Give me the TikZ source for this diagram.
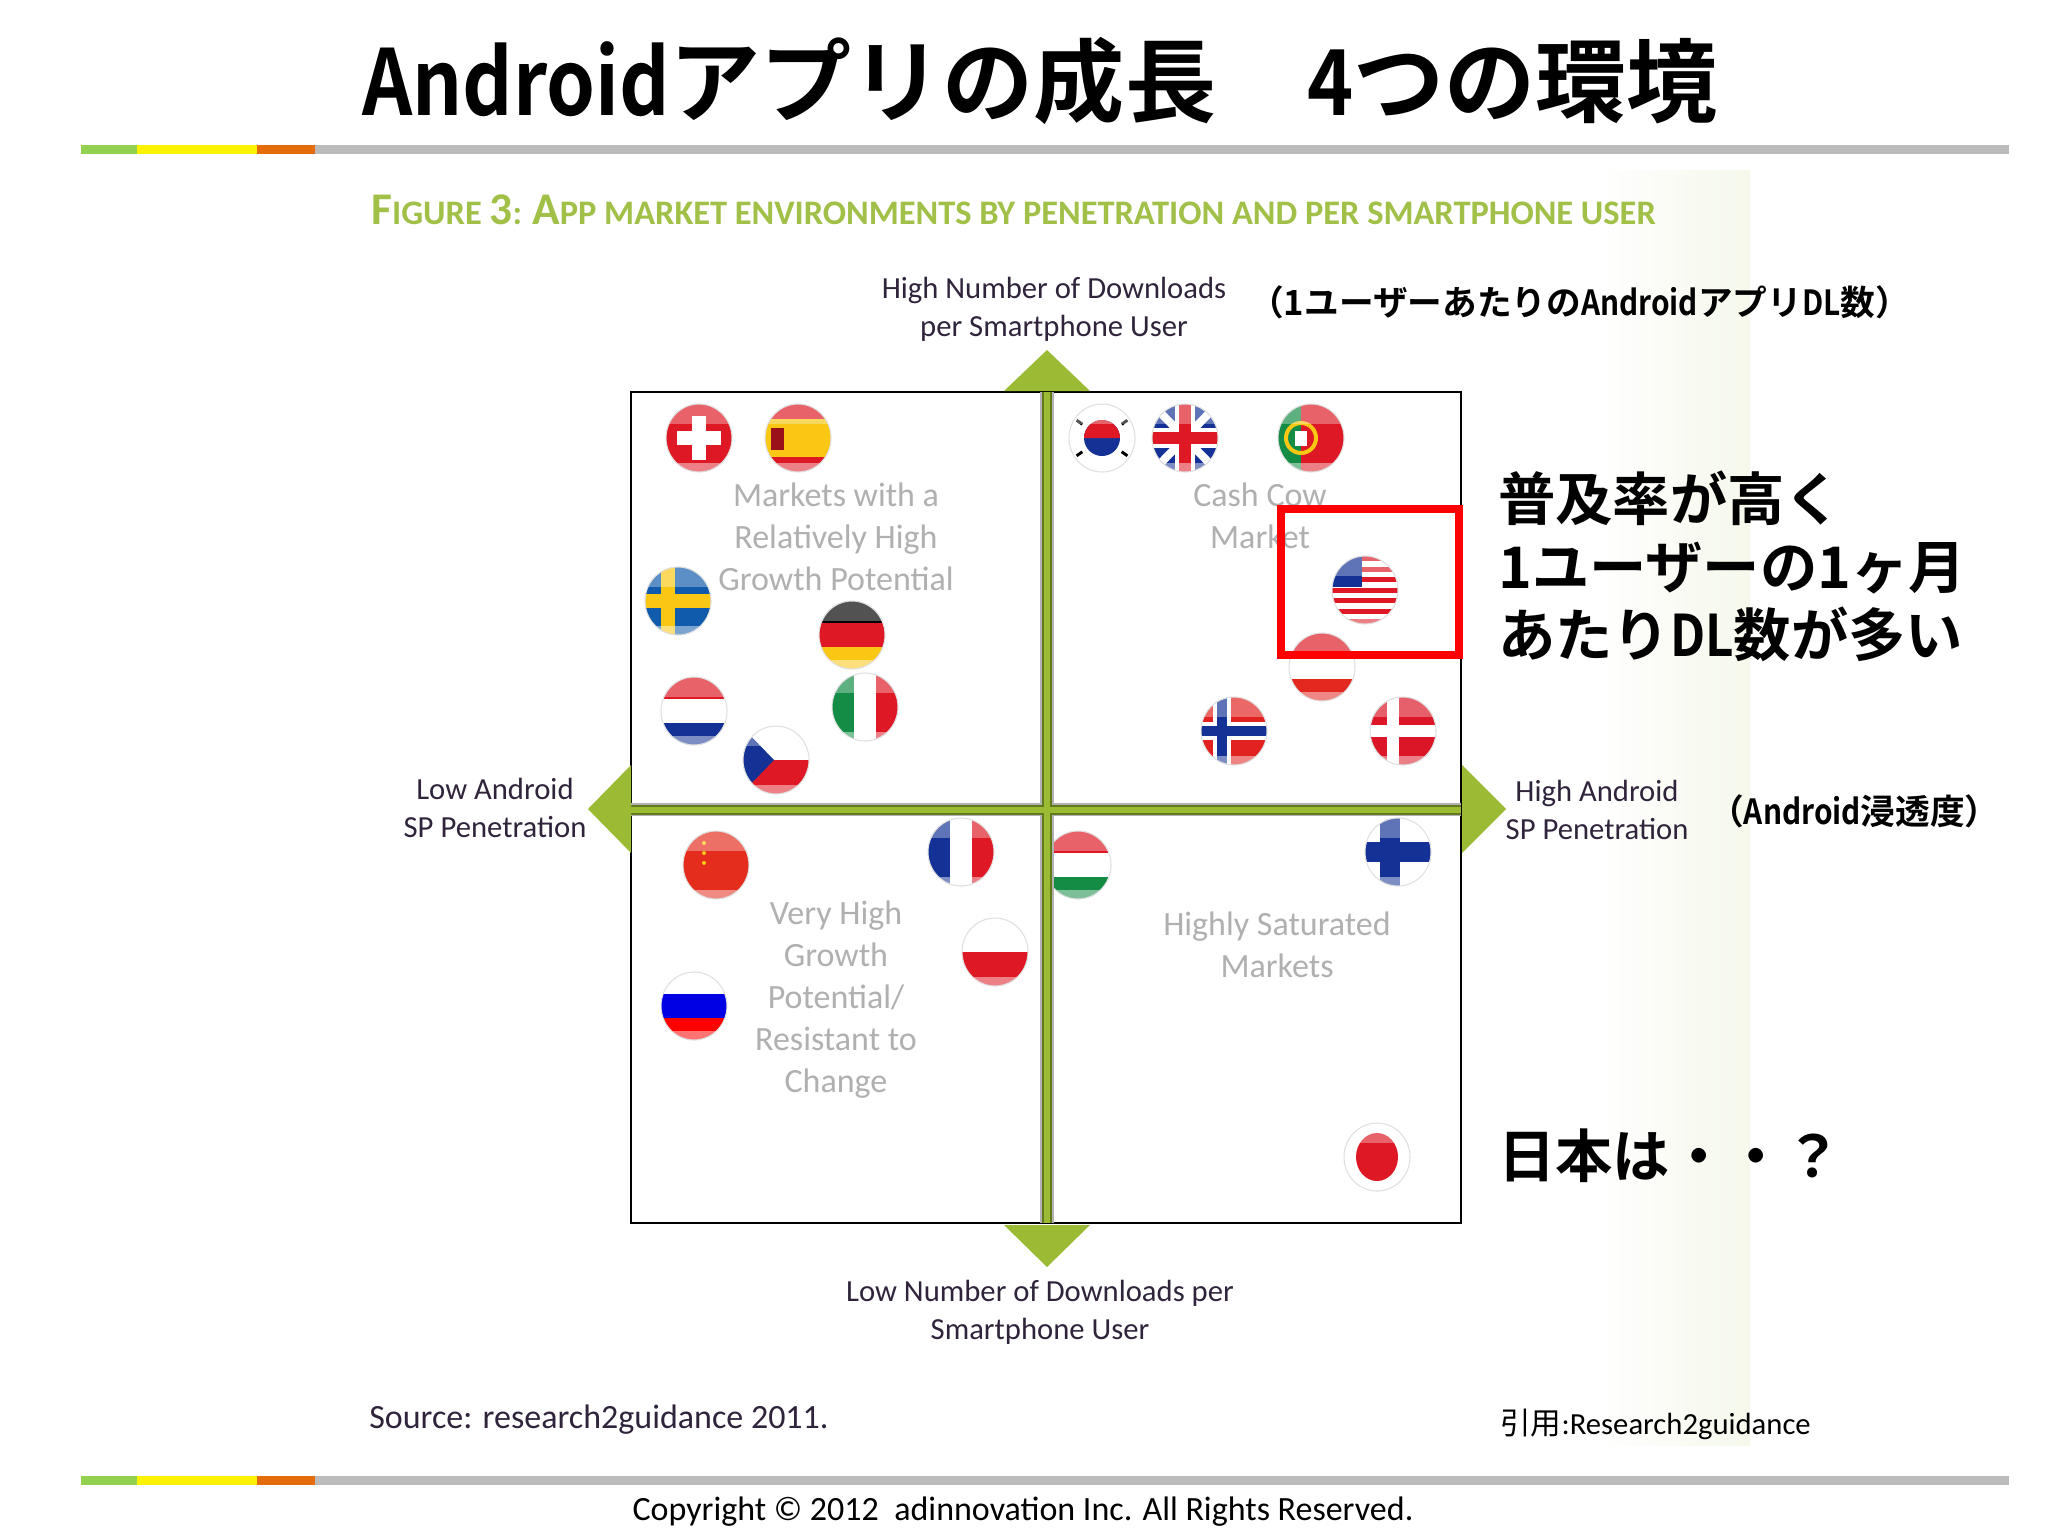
\documentclass[tikz,border=0pt]{standalone}
\usepackage{fontspec}
\usepackage{xcolor}
\setmainfont{Carlito}
\newfontfamily\cjk{Noto Sans CJK JP Bold}
\newfontfamily\cjklat[FakeStretch=0.86]{Noto Sans CJK JP Bold}
\newfontfamily\cjkreg{Noto Sans CJK JP}
\definecolor{barorange}{RGB}{228,108,10}
\definecolor{bargreen}{RGB}{146,208,80}
\definecolor{bargray}{RGB}{187,187,187}
\definecolor{axisgreen}{RGB}{155,187,52}
\definecolor{axisdark}{RGB}{98,122,28}
\definecolor{headgreen}{RGB}{160,192,72}
\definecolor{labelink}{RGB}{48,36,60}
\definecolor{quadgray}{RGB}{176,176,176}
\definecolor{flagblue}{RGB}{20,50,150}
\definecolor{flagred}{RGB}{222,24,36}
\definecolor{flagyellow}{RGB}{250,200,20}
\definecolor{flaggreen}{RGB}{20,140,70}
\tikzset{
    axislabel/.style={anchor=center,inner sep=0.75pt,align=center,text=labelink,font=\fontsize{23}{28.5}\selectfont},
    quadlabel/.style={anchor=center,inner sep=0.75pt,align=center,text=quadgray,font=\fontsize{25.5}{31.5}\selectfont},
    bigjp/.style={anchor=west,inner sep=0.75pt,align=left,font=\cjk\fontsize{43}{43}\selectfont},
    smalljp/.style={anchor=west,inner sep=0.75pt,align=left,font=\cjk\fontsize{26}{26}\selectfont},
}
\newcommand{\headcap}[1]{{\fontsize{34}{34}\selectfont #1}}
\newcommand{\flagball}[3]{%
    \begin{scope}[shift={(#1,#2)}]
        \begin{scope}
            \clip (0,0) ellipse (33 and 34);
            #3
            \fill [white,opacity=0.32] (-40,-40) rectangle (40,-14);
            \fill [white,opacity=0.45] (-40,25) rectangle (40,40);
        \end{scope}
        \draw [black!12,line width=0.8pt] (0,0) ellipse (33 and 34);
    \end{scope}}
\newcommand{\hbands}[3]{%
    \fill [#1] (-40,-40) rectangle (40,-12);
    \fill [#2] (-40,-12) rectangle (40,12);
    \fill [#3] (-40,12) rectangle (40,40);}
\newcommand{\vbands}[3]{%
    \fill [#1] (-40,-40) rectangle (-11,40);
    \fill [#2] (-11,-40) rectangle (11,40);
    \fill [#3] (11,-40) rectangle (40,40);}
\newcommand{\crossflag}[4]{%
    \fill [#1] (-40,-40) rectangle (40,40);
    \fill [#2] (#3-#4,-40) rectangle (#3+#4,40);
    \fill [#2] (-40,-#4) rectangle (40,#4);}
\begin{document}
\begin{tikzpicture}[x=0.75pt,y=0.75pt,yscale=-1,xscale=1]
    \useasboundingbox (0,0) rectangle (2048,1536);
    \fill [white] (0,0) rectangle (2048,1536);
    \shade [left color=white,right color=axisgreen!10,draw=none] (1595,170) rectangle (1750,1445);
    % rules top and bottom
    \foreach \y in {145,1476} {
        \fill [bargreen] (81,\y) rectangle (137,\y+9);
        \fill [yellow] (137,\y) rectangle (257,\y+9);
        \fill [barorange] (257,\y) rectangle (315,\y+9);
        \fill [bargray] (315,\y) rectangle (2009,\y+9);
    }
    \draw (1040,81) node [anchor=center][inner sep=0.75pt] [font=\cjk\fontsize{68.3}{68.3}\selectfont] (title) {{\cjklat Android}アプリの成長　{\cjklat 4}つの環境};
    \draw (370,210) node [anchor=west][inner sep=0.75pt] [font=\bfseries\fontsize{25.8}{25.8}\selectfont,text=headgreen] (figtitle) {\headcap{F}IGURE \headcap{3}: \headcap{A}PP MARKET ENVIRONMENTS BY PENETRATION AND PER SMARTPHONE USER};
    % quadrant texts
    \draw (836,537) node [quadlabel] (qtl) {Markets with a\\Relatively High\\Growth Potential};
    \draw (1260,516) node [quadlabel] (qtr) {Cash Cow\\Market};
    \draw (836,1000) node [quadlabel] (qbl) {Very High\\Growth\\Potential/\\Resistant to\\Change};
    \draw (1277,945) node [quadlabel] (qbr) {Highly Saturated\\Markets};
    \draw [black,line width=1.8pt] (631,392) rectangle (1461,1223);
    % flags, left top
    \flagball{699}{438}{\crossflag{flagred}{white}{0}{7}\fill [flagred] (-40,-40) rectangle (-22,40);\fill [flagred] (22,-40) rectangle (40,40);\fill [flagred] (-40,-40) rectangle (40,-22);\fill [flagred] (-40,22) rectangle (40,40);}
    \flagball{798}{438}{\hbands{flagred}{flagyellow}{flagred}\fill [flagyellow] (-40,-19) rectangle (40,19);\fill [flagred!70!black] (-27,-10) rectangle (-14,12);}
    \flagball{678}{601}{\crossflag{flagblue!80!cyan}{flagyellow}{-10}{7}}
    \flagball{852}{635}{\hbands{black}{flagred}{flagyellow}}
    \flagball{694}{711}{\hbands{flagred}{white}{flagblue}}
    \flagball{865}{707}{\vbands{flaggreen}{white}{flagred}}
    \flagball{776}{760}{\fill [white] (-40,-40) rectangle (40,0);\fill [flagred] (-40,0) rectangle (40,40);\fill [flagblue] (-33,-32) -- (-2,0) -- (-33,32) -- cycle;}
    % flags, right top
    \flagball{1102}{438}{\fill [white] (-40,-40) rectangle (40,40);\fill [flagblue] (0,0) circle (18);\fill [flagred] (-18,0) arc (180:360:18) -- cycle;\foreach \a in {35,145,215,325} {\draw [black,line width=2.2pt] (\a:24) -- (\a:31);}}
    \flagball{1185}{438}{\fill [flagblue] (-40,-40) rectangle (40,40);\draw [white,line width=6pt] (-33,-34) -- (33,34) (-33,34) -- (33,-34);\fill [white] (-10,-40) rectangle (10,40);\fill [white] (-40,-10) rectangle (40,10);\fill [flagred] (-6,-40) rectangle (6,40);\fill [flagred] (-40,-6) rectangle (40,6);}
    \flagball{1311}{438}{\fill [flagred] (-40,-40) rectangle (40,40);\fill [flaggreen] (-40,-40) rectangle (-10,40);\draw [flagyellow,line width=3pt] (-10,0) circle (15);\fill [white] (-16,-7) rectangle (-4,8);}
    \flagball{1365}{590}{\foreach \k in {0,...,12} {\fill [flagred] (-40,-34+\k*5.25*2) rectangle (40,-34+\k*5.25*2+5.25);}\fill [flagblue] (-40,-40) rectangle (-3,-3);}
    \flagball{1322}{667}{\hbands{flagred}{white}{flagred!85!orange}}
    \flagball{1234}{731}{\crossflag{flagred!90!orange}{white}{-12}{9}\fill [flagblue] (-17,-40) rectangle (-7,40);\fill [flagblue] (-40,-5) rectangle (40,5);}
    \flagball{1403}{731}{\crossflag{flagred!90!purple}{white}{-10}{6}}
    % flags, left bottom
    \flagball{716}{865}{\fill [flagred!80!orange] (-40,-40) rectangle (40,40);\foreach \dy in {-22,-12,-2} {\fill [flagyellow] (-12,\dy) circle (2);}}
    \flagball{961}{852}{\vbands{flagblue}{white}{flagred}}
    \flagball{995}{952}{\fill [white] (-40,-40) rectangle (40,0);\fill [flagred] (-40,0) rectangle (40,40);}
    \flagball{694}{1006}{\hbands{white}{blue!90!black}{red}}
    % flags, right bottom
    \flagball{1078}{865}{\hbands{flagred}{white}{flaggreen}}
    \flagball{1398}{852}{\crossflag{white}{flagblue}{-8}{10}}
    \flagball{1377}{1157}{\fill [white] (-40,-40) rectangle (40,40);\fill [flagred] (0,0) ellipse (21 and 24);}
    % centre bars
    \fill [black!30] (1040,392) rectangle (1054,1223);
    \fill [black!30] (631,803) rectangle (1461,816);
    \fill [axisdark] (1042,392) rectangle (1052,1223);
    \fill [axisdark] (631,805) rectangle (1461,815);
    \fill [axisgreen] (1044,392) rectangle (1050,1223);
    \fill [axisgreen] (631,807) rectangle (1461,813);
    % axis triangles
    \fill [axisgreen] (631,765) -- (588,809) -- (631,853) -- cycle;
    \fill [axisgreen] (1462,765) -- (1506,809) -- (1462,853) -- cycle;
    \fill [axisgreen] (1004,391) -- (1047,350) -- (1090,391) -- cycle;
    \fill [axisgreen] (1004,1225) -- (1047,1267) -- (1090,1225) -- cycle;
    \draw [red,line width=5.5pt] (1281,509) rectangle (1459,655);
    % axis labels
    \draw (1054,309) node [axislabel] (axtop) {High Number of Downloads\\per Smartphone User};
    \draw (1040,1312) node [axislabel] (axbot) {Low Number of Downloads per\\Smartphone User};
    \draw (495,808) node [axislabel] (axleft) {Low Android\\SP Penetration};
    \draw (1597,810) node [axislabel] (axright) {High Android\\SP Penetration};
    % japanese notes
    \draw (1248,302) node [smalljp] (notetop) {（1ユーザーあたりの{\cjklat Android}アプリ{\cjklat DL}数）};
    \draw (1708,811) node [smalljp] (noteright) {（{\cjklat Android}浸透度）};
    \draw (1497,566) node [bigjp,align=left,font=\cjk\fontsize{43}{51}\selectfont] (noteus) {普及率が高く\\1ユーザーの1ヶ月\\あたり{\cjklat DL}数が多い};
    \draw (1497,1156) node [bigjp] (notejp) {日本は・・？};
    % source lines
    \draw (368,1420) node [anchor=west][inner sep=0.75pt] [font=\fontsize{25.5}{25.5}\selectfont,text=labelink] (source) {Source: research2guidance 2011.};
    \draw (1499,1424) node [anchor=west][inner sep=0.75pt] [font=\fontsize{23}{23}\selectfont] (cite) {{\cjkreg 引用}:Research2guidance};
    \draw (1023,1512) node [anchor=center][inner sep=0.75pt] [font=\fontsize{25.5}{25.5}\selectfont] (copyright) {Copyright © 2012~ adinnovation Inc. All Rights Reserved.};
\end{tikzpicture}
\end{document}
